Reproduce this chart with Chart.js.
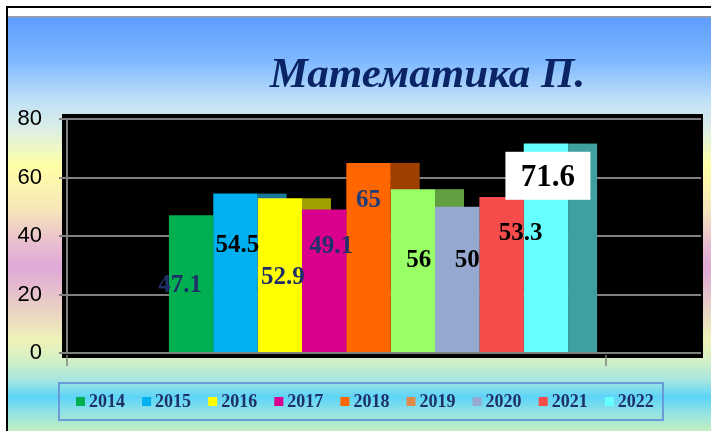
<!DOCTYPE html>
<html>
<head>
<meta charset="utf-8">
<title>Математика П.</title>
<script src="https://cdn.jsdelivr.net/npm/chart.js@4/dist/chart.umd.min.js"></script>
<style>
    html, body { margin: 0; padding: 0; background: #ffffff; }
    #wrap { width: 711px; height: 431px; position: relative; }
</style>
</head>
<body>
<div id="wrap"><canvas id="mathChart" width="711" height="431"></canvas></div>
<script>
// chart data
let years = ["2014", "2015", "2016", "2017", "2018", "2019", "2020", "2021", "2022"];
let scores = [47.1, 54.5, 52.9, 49.1, 65, 56, 50, 53.3, 71.6];
let yTicks = [0, 20, 40, 60, 80];

// colours
let barColors = ["#00B050", "#00B0F0", "#FFFF00", "#D9008D", "#FF6600", "#99FF66", "#95A9D0", "#F84B4B", "#66FFFF"];
let sideColors = ["#00783A", "#19779A", "#A0A000", "#99005F", "#A04000", "#60A040", "#6A7A9A", "#A83030", "#40A0A0"];
let legendColors = ["#00B050", "#00B0F0", "#FFFF00", "#D9008D", "#FF6600", "#E0894A", "#95A9D0", "#F84B4B", "#66FFFF"];
let labelColors = ["#1F3068", "#000000", "#1F3068", "#1F3068", "#1F3C78", "#000000", "#000000", "#000000", "#000000"];

// where each value label sits relative to the middle of its bar (dx, dy)
let labelShift = [[-11, 0], [2, -29], [3, 0], [7, -36], [0, -59], [6, -12], [10, -21], [19, -43], [2, -72]];

const depth = 29;
const navy = "#0A2466";

let scenePlugin = {
    id: "scene",
    beforeDraw(chart) {
        let ctx = chart.ctx;
        let area = chart.chartArea;
        let y = chart.scales.y;
        ctx.save();

        // page + frame
        ctx.fillStyle = "#ffffff";
        ctx.fillRect(0, 0, chart.width, chart.height);
        let g = ctx.createLinearGradient(0, 17, 0, 431);
        let stops = [
            [17, "#5C9CFF"], [60, "#7DB8FF"], [100, "#BFE0F8"], [130, "#DDEFE4"],
            [165, "#FFFFA6"], [210, "#F6E6BA"], [245, "#E8BCD0"], [268, "#E0A8D8"],
            [300, "#E8C8C8"], [340, "#EEF2B8"], [360, "#D4F0C4"], [380, "#A8E6E0"],
            [397, "#5CD4F8"], [412, "#90E2E4"], [431, "#C4F0C0"]
        ];
        stops.forEach(s => g.addColorStop((s[0] - 17) / (431 - 17), s[1]));
        ctx.fillStyle = g;
        ctx.fillRect(8, 17, chart.width - 8, chart.height - 17);
        ctx.fillStyle = "#A0A0A0";
        ctx.fillRect(8, 16, chart.width - 8, 1.5);
        ctx.fillStyle = "#000000";
        ctx.fillRect(6, 6, chart.width - 6, 2);
        ctx.fillRect(6, 6, 2, chart.height - 6);

        // black plot wall
        ctx.fillStyle = "#000000";
        ctx.fillRect(area.left - 5, area.top - 5, area.right - area.left + depth + 9, area.bottom - area.top + 10);

        // grid lines (run into the back wall)
        ctx.strokeStyle = "#808080";
        ctx.lineWidth = 2;
        yTicks.forEach(v => {
            let py = Math.round(y.getPixelForValue(v));
            ctx.beginPath();
            ctx.moveTo(area.left, py);
            ctx.lineTo(area.right + depth + 2, py);
            ctx.stroke();
        });

        // category tick marks under the floor
        ctx.lineWidth = 1.5;
        [area.left, area.right - 64].forEach(px => {
            ctx.beginPath();
            ctx.moveTo(px, area.bottom + 2);
            ctx.lineTo(px, area.bottom + 13);
            ctx.stroke();
        });
        ctx.restore();
    },
    beforeDatasetsDraw(chart) {
        // side faces of the 3D columns, later columns cover them
        let ctx = chart.ctx;
        ctx.save();
        chart.data.datasets.forEach((ds, i) => {
            let el = chart.getDatasetMeta(i).data[0];
            ctx.fillStyle = sideColors[i];
            ctx.fillRect(el.x + el.width / 2, el.y, depth, el.base - el.y);
        });
        ctx.restore();
    },
    afterDatasetsDraw(chart) {
        let ctx = chart.ctx;
        ctx.save();
        ctx.textAlign = "center";
        ctx.textBaseline = "alphabetic";
        chart.data.datasets.forEach((ds, i) => {
            let el = chart.getDatasetMeta(i).data[0];
            let cx = el.x + labelShift[i][0];
            let cy = (el.y + el.base) / 2 + labelShift[i][1];
            let size = 25;
            if (i === years.length - 1) {
                size = 31;
                ctx.fillStyle = "#ffffff";
                ctx.fillRect(cx - 42.5, cy - 24, 85, 48);
            }
            ctx.font = "bold " + size + "px 'Liberation Serif', 'Times New Roman', serif";
            ctx.fillStyle = labelColors[i];
            ctx.fillText(String(ds.data[0]), cx, cy + size * 0.34);
        });
        ctx.restore();
    },
    afterDraw(chart) {
        let ctx = chart.ctx;
        ctx.save();

        // title
        ctx.font = "italic bold 43px 'Liberation Serif', 'Times New Roman', serif";
        ctx.fillStyle = navy;
        ctx.textAlign = "center";
        ctx.textBaseline = "alphabetic";
        ctx.fillText("Математика П.", 427.5, 86.5);

        // legend
        ctx.strokeStyle = "#6A9BD8";
        ctx.lineWidth = 2;
        ctx.strokeRect(59, 383, 604, 37);
        ctx.font = "bold 18px 'Liberation Serif', 'Times New Roman', serif";
        ctx.textAlign = "left";
        years.forEach((yr, i) => {
            let mx = 76 + i * 66.1;
            ctx.fillStyle = legendColors[i];
            ctx.fillRect(mx, 397, 9, 9);
            ctx.fillStyle = "#1F3068";
            ctx.fillText(yr, mx + 13, 407);
        });
        ctx.restore();
    }
};

let ctx1 = document.getElementById("mathChart").getContext("2d");
new Chart(ctx1, {
    type: "bar",
    data: {
        labels: [""],
        datasets: years.map((yr, i) => ({
            label: yr,
            data: [scores[i]],
            backgroundColor: barColors[i],
            borderWidth: 0,
            categoryPercentage: 0.662,
            barPercentage: 1
        }))
    },
    options: {
        responsive: false,
        animation: false,
        events: [],
        layout: {
            padding: { top: 119, bottom: 78, left: 0, right: 41 }
        },
        plugins: {
            legend: { display: false },
            title: { display: false },
            tooltip: { enabled: false }
        },
        scales: {
            x: {
                display: false,
                offset: true
            },
            y: {
                min: 0,
                max: 80,
                afterFit(scale) { scale.width = 67; },
                afterBuildTicks(scale) { scale.ticks = yTicks.map(v => ({ value: v })); },
                ticks: {
                    color: "#000000",
                    padding: 17,
                    font: { family: "'Liberation Sans', Arial, sans-serif", size: 22 }
                },
                grid: {
                    drawOnChartArea: false,
                    tickLength: 8,
                    color: "#808080",
                    lineWidth: 2
                },
                border: {
                    display: true,
                    color: "#808080",
                    width: 2
                }
            }
        }
    },
    plugins: [scenePlugin]
});
</script>
</body>
</html>
